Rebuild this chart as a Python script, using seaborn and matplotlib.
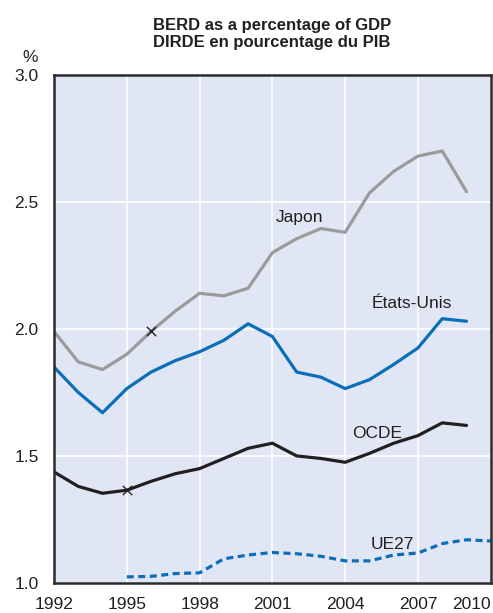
import matplotlib
matplotlib.use("Agg")
import matplotlib.pyplot as plt
import seaborn as sns
import pandas as pd
import numpy as np

years = list(range(1992, 2010))
japon = [1.99, 1.87, 1.84, 1.90, 1.99, 2.07, 2.14, 2.13, 2.16, 2.30, 2.355, 2.395, 2.38, 2.535, 2.62, 2.68, 2.70, 2.54]
etats_unis = [1.85, 1.75, 1.67, 1.765, 1.83, 1.875, 1.91, 1.955, 2.02, 1.97, 1.83, 1.81, 1.765, 1.80, 1.86, 1.925, 2.04, 2.03]
ocde = [1.437, 1.38, 1.353, 1.365, 1.40, 1.43, 1.45, 1.49, 1.53, 1.55, 1.50, 1.49, 1.475, 1.51, 1.55, 1.58, 1.63, 1.62]
years_ue = list(range(1995, 2011))
ue27 = [1.024, 1.026, 1.037, 1.04, 1.095, 1.11, 1.12, 1.115, 1.105, 1.087, 1.087, 1.11, 1.118, 1.155, 1.17, 1.165]
breaks_year = [1996, 1995]
breaks_val = [1.99, 1.365]

xticks = [1992, 1995, 1998, 2001, 2004, 2007, 2010]
yticks = [1.0, 1.5, 2.0, 2.5, 3.0]

sns.set_theme(style="white")
fam = ['Liberation Sans', 'DejaVu Sans']
plt.rcParams['font.family'] = fam

fig = plt.figure(figsize=(4.93, 6.13), dpi=100)
ax = fig.add_axes([0.1095, 0.049, 0.886, 0.829])
ax.set_facecolor('#E1E6F4')

df = pd.concat([
    pd.DataFrame({'year': years, 'val': japon, 'pays': 'Japon'}),
    pd.DataFrame({'year': years, 'val': etats_unis, 'pays': 'États-Unis'}),
    pd.DataFrame({'year': years, 'val': ocde, 'pays': 'OCDE'}),
])
palette = {'Japon': '#9B9B9B', 'États-Unis': '#0A6EB9', 'OCDE': '#231F20'}
sns.lineplot(data=df, x='year', y='val', hue='pays', palette=palette, lw=2.3,
             ax=ax, legend=False)
sns.lineplot(x=years_ue, y=ue27, color='#0A6EB9', lw=2.3, ax=ax,
             linestyle=(0, (2.2, 1.4)), legend=False)
ax.scatter(breaks_year, breaks_val, marker='x', color='#231F20', s=45, lw=1.0, zorder=5)

ax.set_xlim(1992, 2010)
ax.set_ylim(1.0, 3.0)
ax.set_xticks(xticks)
ax.set_yticks(yticks)
ax.grid(True, color='white', lw=1.2)
ax.set_axisbelow(True)
for s in ax.spines.values():
    s.set_color('#2b2b2b')
    s.set_linewidth(1.8)
ax.tick_params(axis='both', direction='in', length=6, width=1, color='#555555',
               labelsize=12.5, labelcolor='#231F20')
ax.tick_params(axis='x', pad=10)
ax.tick_params(axis='y', pad=11)
labels = ax.get_xticklabels()
labels[-1].set_horizontalalignment('right')
ax.set_xlabel('')
ax.set_ylabel('')

ax.text(2002.1, 2.437, 'Japon', fontsize=12.5, color='#231F20', ha='center', va='center')
ax.text(2006.74, 2.098, 'États-Unis', fontsize=12.5, color='#231F20', ha='center', va='center')
ax.text(2005.3, 1.59, 'OCDE', fontsize=12.5, color='#231F20', ha='center', va='center')
ax.text(2005.95, 1.15, 'UE27', fontsize=12.5, color='#231F20', ha='center', va='center')

fig.text(0.061, 0.899, '%', fontsize=12.5, color='#231F20', ha='center', va='baseline')
fig.text(0.552, 0.951, 'BERD as a percentage of GDP', fontsize=12, fontweight='bold',
         color='#231F20', ha='center', va='baseline')
fig.text(0.552, 0.923, 'DIRDE en pourcentage du PIB', fontsize=12, fontweight='bold',
         color='#231F20', ha='center', va='baseline')

fig.savefig('out.png', dpi=100)
